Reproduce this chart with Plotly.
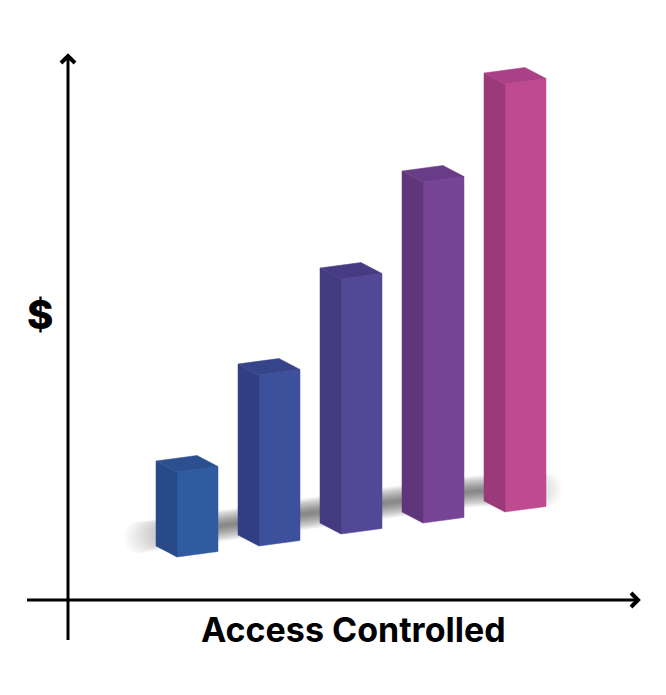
#import packages
import math
import numpy as np
import plotly.graph_objs as go

###data
categories = [1, 2, 3, 4, 5]
bar_base = [43, 54, 66, 77, 88]
bar_top = [128, 225, 321, 418, 516]

front_colours = ['#2f5ba0', '#3c509c', '#524896', '#774596', '#bf4a90']
side_colours = ['#294a88', '#333f84', '#443a80', '#60367a', '#9a3a78']
top_colours = ['#2c4f90', '#36448a', '#473c84', '#683c86', '#ac4086']

###box geometry (one x unit is one bar step, one y unit is one pixel)
step = 82.0
side_dx, side_dy = 21 / step, 11
front_dx, front_dy = 41 / step, 5.5

x_range = [-177 / step + 1, (666 - 177) / step + 1]
y_range = [-95, 600]
x_origin = (68 - 177) / step + 1

fig = go.Figure()


def add_face(xs, ys, colour, width=0.5):
    fig.add_trace(go.Scatter(x=xs + xs[:1], y=ys + ys[:1], mode='lines', fill='toself',
                             fillcolor=colour, line=dict(width=width, color=colour),
                             hoverinfo='skip', showlegend=False))


###soft floor shadow, stacked see through layers along the bar feet
#inner layers are shorter so the shadow fades out at both ends
shadow_x = [c - 31 / step for c in categories]
shadow_y = [b + 21 for b in bar_base]
far_left = categories[0] - 52 / step
far_right = categories[-1] + 56 / step
shadow_x = [far_left] + shadow_x + [far_right]
shadow_y = [bar_base[0] + 17] + shadow_y + [bar_base[-1] + 23]
layers = 30
cap_points = 10
for k in range(layers):
    t = k / (layers - 1)
    half = 1 + 15 * (1 - t)
    x_left = far_left + 12 / step + t * 78 / step
    x_right = far_right - 12 / step - t * 66 / step
    left_cap = 12 * (1 - t) / step + 1 / step
    right_cap = 12 * (1 - t) / step + 1 / step
    middle = [x_left + (x_right - x_left) * j / 24 for j in range(25)]
    centre = [float(np.interp(x, shadow_x, shadow_y)) for x in middle]
    xs = []
    ys = []
    # upper edge, left to right
    for x, y in zip(middle, centre):
        xs.append(x)
        ys.append(y + half)
    # round right end
    for j in range(1, cap_points):
        a = math.pi * j / cap_points
        xs.append(x_right + right_cap * math.sin(a))
        ys.append(centre[-1] + half * math.cos(a))
    # lower edge, right to left
    for x, y in zip(middle[::-1], centre[::-1]):
        xs.append(x)
        ys.append(y - half)
    # round left end
    for j in range(1, cap_points):
        a = math.pi * j / cap_points
        xs.append(x_left - left_cap * math.sin(a))
        ys.append(centre[0] - half * math.cos(a))
    add_face(xs, ys, 'rgba(40,40,40,0.022)', width=0)

###the boxes
for i, c in enumerate(categories):
    b = bar_base[i]
    v = bar_top[i]
    # front face
    add_face([c, c + front_dx, c + front_dx, c],
             [b, b + front_dy, v + front_dy, v], front_colours[i])
    # left face
    add_face([c, c - side_dx, c - side_dx, c],
             [b, b + side_dy, v + side_dy, v], side_colours[i])
    # top face
    add_face([c, c + front_dx, c + front_dx - side_dx, c - side_dx],
             [v, v + front_dy, v + front_dy + side_dy, v + side_dy], top_colours[i])

###axes with open arrow heads
axis_line = dict(color='black', width=3)
head_line = dict(color='black', width=4)
head_x = 7 / step
head_y = 7


def axis_shape(xs, ys, line=axis_line):
    path = 'M' + ' L'.join('%f,%f' % p for p in zip(xs, ys))
    return dict(type='path', path=path, xref='x', yref='y', line=line)


x_end = (638 - 177) / step + 1
y_end = 600 - 56
shapes = [
    axis_shape([x_origin, x_origin], [-40, y_end]),
    axis_shape([x_origin - head_x, x_origin, x_origin + head_x],
               [y_end - head_y, y_end, y_end - head_y], head_line),
    axis_shape([(27 - 177) / step + 1, x_end], [0, 0]),
    axis_shape([x_end - head_x, x_end, x_end - head_x], [head_y, 0, -head_y], head_line),
]

fig.update_layout(
    width=666, height=695,
    margin=dict(l=0, r=0, t=0, b=0),
    paper_bgcolor='white', plot_bgcolor='white',
    xaxis=dict(range=x_range, visible=False, fixedrange=True),
    yaxis=dict(range=y_range, visible=False, fixedrange=True),
    shapes=shapes,
    annotations=[
        dict(text='Access Controlled', x=(353 - 177) / step + 1, y=600 - 629,
             xref='x', yref='y', showarrow=False,
             font=dict(family='Inter', size=34, color='black', weight=700)),
        dict(text='$', x=(40 - 177) / step + 1, y=600 - 314,
             xref='x', yref='y', showarrow=False,
             font=dict(family='Inter', size=40, color='black', weight=800)),
    ],
)

fig.write_html('out.html', config=dict(displayModeBar=False),
               post_script="document.body.style.margin='0';")
